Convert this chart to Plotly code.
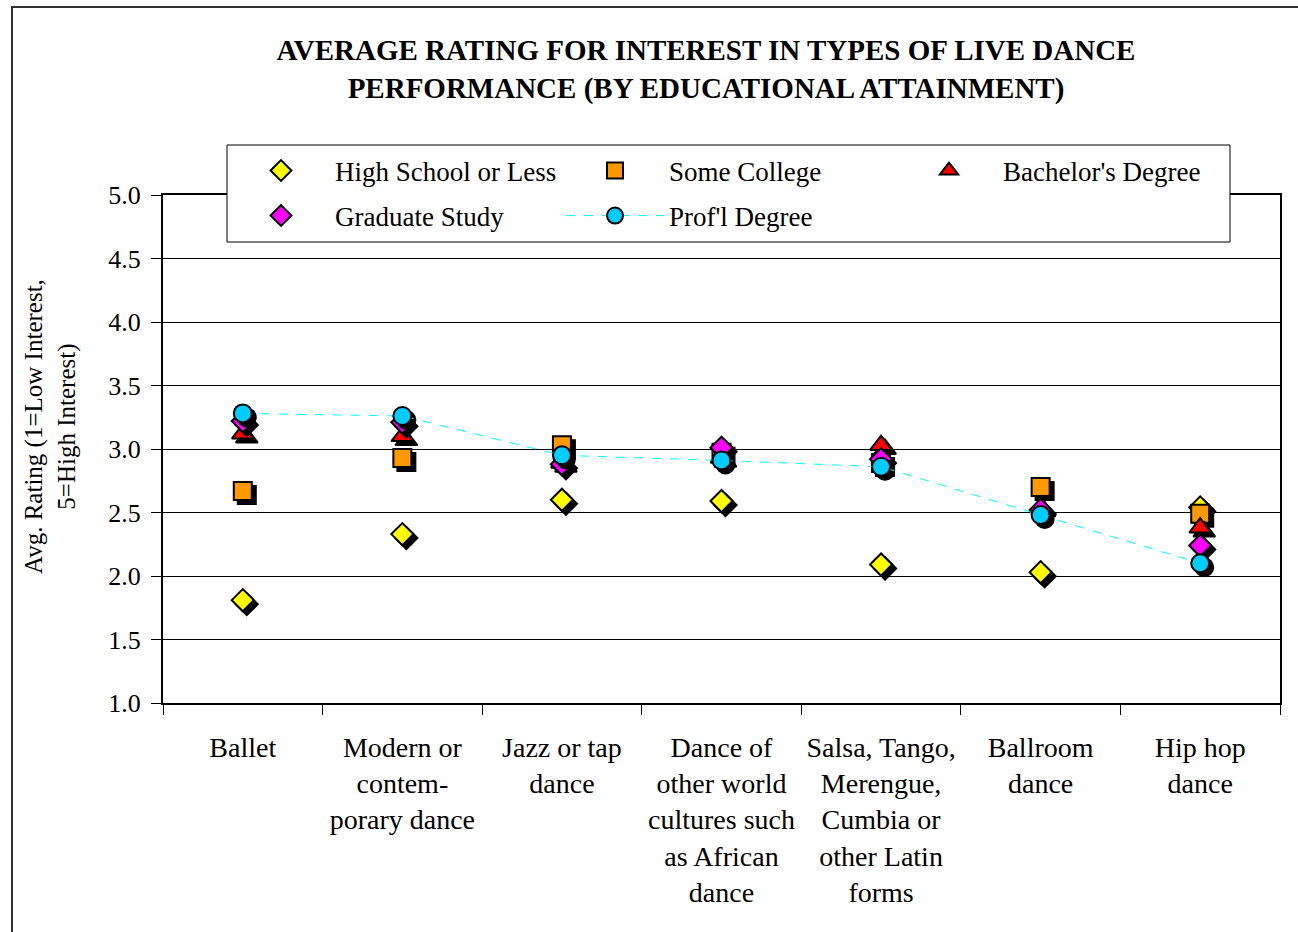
import plotly.graph_objects as go

categories = [
    "Ballet",
    "Modern or<br>contem-<br>porary dance",
    "Jazz or tap<br>dance",
    "Dance of<br>other world<br>cultures such<br>as African<br>dance",
    "Salsa, Tango,<br>Merengue,<br>Cumbia or<br>other Latin<br>forms",
    "Ballroom<br>dance",
    "Hip hop<br>dance",
]

high_school = [1.81, 2.33, 2.60, 2.59, 2.09, 2.03, 2.54]
some_college = [2.67, 2.93, 3.03, 2.97, 2.89, 2.70, 2.49]
bachelors = [3.12, 3.10, 2.89, 2.93, 3.03, 2.54, 2.38]
graduate = [3.22, 3.21, 2.88, 3.01, 2.92, 2.52, 2.24]
profl = [3.28, 3.26, 2.95, 2.91, 2.86, 2.48, 2.10]

W, H = 1298, 932
L, R, T, B = 163, 18, 195, 229
plot_w, plot_h = W - L - R, H - T - B
y_min, y_max = 1.0, 5.0
x_min, x_max = -0.5, len(categories) - 0.5

# drop-shadow offset of 4 px, converted to axis units
shadow_px = 4
dx = shadow_px * (x_max - x_min) / plot_w
dy = -shadow_px * (y_max - y_min) / plot_h

FONT = "Liberation Serif"
xs = list(range(len(categories)))


def px_x(p):
    return (p - L) / plot_w


def px_y(p):
    return 1 - (p - T) / plot_h


# name, values, symbol, fill, size, dashed connector, legend row
series = [
    ("High School or Less", high_school, "diamond", "#FFFF00", 17, False, "legend"),
    ("Some College", some_college, "square", "#FF9900", 18, False, "legend"),
    ("Bachelor's Degree", bachelors, "triangle-up", "#FF0000", 19, False, "legend"),
    ("Graduate Study", graduate, "diamond", "#FF00FF", 17, False, "legend2"),
    ("Prof'l Degree", profl, "circle", "#00CCFF", 18, True, "legend2"),
]

fig = go.Figure()
for name, vals, sym, color, size, with_line, leg in series:
    fig.add_trace(go.Scatter(
        x=[x + dx for x in xs], y=[v + dy for v in vals],
        mode="markers", showlegend=False, hoverinfo="skip",
        marker=dict(symbol=sym, size=size, color="black",
                    line=dict(color="black", width=2)),
    ))
    fig.add_trace(go.Scatter(
        x=xs, y=vals, name=name, legend=leg,
        mode="lines+markers" if with_line else "markers",
        line=dict(color="#00FFFF", width=1, dash="dash"),
        marker=dict(symbol=sym, size=size, color=color,
                    line=dict(color="black", width=2)),
    ))

legend_common = dict(
    orientation="h", xanchor="left", yanchor="middle",
    borderwidth=0, bgcolor="rgba(0,0,0,0)",
    font=dict(family=FONT, size=27, color="black"),
    itemwidth=98, entrywidth=221,
)

fig.update_layout(
    width=W, height=H, autosize=False,
    margin=dict(l=L, r=R, t=T, b=B),
    paper_bgcolor="white", plot_bgcolor="white",
    font=dict(family=FONT, color="black", size=25),
    title=dict(
        text="<b>AVERAGE RATING FOR INTEREST IN TYPES OF LIVE DANCE<br>PERFORMANCE (BY EDUCATIONAL ATTAINMENT)</b>",
        x=706 / W, xanchor="center", y=1 - 60 / H, yanchor="middle",
        font=dict(family=FONT, size=29, color="black"),
    ),
    legend=dict(x=px_x(227), y=px_y(171), **legend_common),
    legend2=dict(x=px_x(227), y=px_y(216), **legend_common),
    xaxis=dict(
        range=[x_min, x_max], tickmode="array", tickvals=xs, ticktext=categories,
        ticks="", showgrid=False, zeroline=False,
        showline=True, linecolor="black", linewidth=2, mirror=True,
        tickfont=dict(family=FONT, size=28), ticklabelstandoff=18,
        minor=dict(tickmode="array", tickvals=[i - 0.5 for i in range(len(categories) + 1)],
                   ticks="outside", ticklen=10, tickcolor="black", tickwidth=1, showgrid=False),
    ),
    yaxis=dict(
        range=[y_min, y_max], dtick=0.5, tickformat=".1f",
        ticks="outside", ticklen=10, tickcolor="black",
        showgrid=True, gridcolor="black", gridwidth=1, zeroline=False,
        showline=True, linecolor="black", linewidth=2, mirror=True,
        tickfont=dict(family=FONT, size=26), ticklabelstandoff=5,
    ),
    annotations=[dict(
        text="Avg. Rating (1=Low Interest,<br>5=High Interest)",
        xref="paper", yref="paper", x=px_x(50), y=px_y(427),
        xanchor="center", yanchor="middle", textangle=-90, showarrow=False,
        font=dict(family=FONT, size=25, color="black"),
    )],
    shapes=[
        dict(type="rect", xref="paper", yref="paper",
             x0=px_x(12), x1=px_x(1330), y0=px_y(7), y1=px_y(960),
             line=dict(color="#333333", width=2), layer="below"),
        dict(type="rect", xref="paper", yref="paper",
             x0=px_x(227), x1=px_x(1230), y0=px_y(145), y1=px_y(242),
             fillcolor="white", line=dict(color="black", width=1), layer="above"),
    ],
)

fig.write_html("out.html")
